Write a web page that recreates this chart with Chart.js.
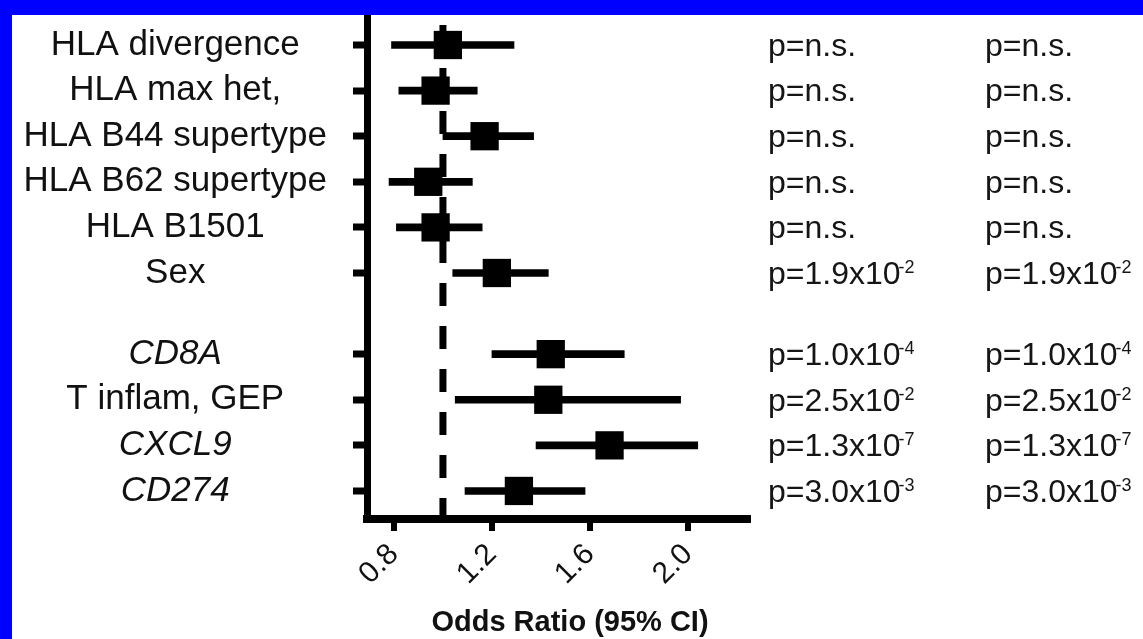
<!DOCTYPE html>
<html>
<head>
<meta charset="utf-8">
<script src="https://cdn.jsdelivr.net/npm/chart.js@4.4.1/dist/chart.umd.min.js"></script>
<style>
  html, body { margin: 0; padding: 0; background: #0000ff; }
  #wrap { position: absolute; left: 12px; top: 15px; width: 1131px; height: 624px; background: #fff; }
</style>
</head>
<body>
<div id="wrap"><canvas id="forest" width="1131" height="624"></canvas></div>
<script>
// Dados
const rowLabels = ['HLA divergence', 'HLA max het,', 'HLA B44 supertype', 'HLA B62 supertype', 'HLA B1501', 'Sex',
                   'CD8A', 'T inflam, GEP', 'CXCL9', 'CD274'];
const rowGroup = [0, 0, 0, 0, 0, 0, 1, 1, 1, 1];
const oddsRatio = [1.02, 0.97, 1.17, 0.94, 0.97, 1.22, 1.44, 1.43, 1.68, 1.31];
const ciLow = [0.79, 0.82, 1.00, 0.78, 0.81, 1.04, 1.20, 1.05, 1.38, 1.09];
const ciHigh = [1.29, 1.14, 1.37, 1.12, 1.16, 1.43, 1.74, 1.97, 2.04, 1.58];
const pValueA = ['n.s.', 'n.s.', 'n.s.', 'n.s.', 'n.s.', '1.9e-2', '1.0e-4', '2.5e-2', '1.3e-7', '3.0e-3'];
const pValueB = ['n.s.', 'n.s.', 'n.s.', 'n.s.', 'n.s.', '1.9e-2', '1.0e-4', '2.5e-2', '1.3e-7', '3.0e-3'];
const xTicks = [0.8, 1.2, 1.6, 2.0];

// Layout / estilo
const GROUP_GAP = 0.78;          // espaço extra entre os dois grupos
const italicLabels = new Set(['CD8A', 'CXCL9', 'CD274']);
const FONT = "'Liberation Sans', Arial, sans-serif";
const rowPos = rowLabels.map((_, i) => i + rowGroup[i] * GROUP_GAP);

// Linha tracejada em OR = 1 e textos dos p-valores
const forestExtras = {
    id: 'forestExtras',
    beforeDatasetsDraw(chart) {
        const {ctx, chartArea, scales} = chart;
        const x = scales.x.getPixelForValue(1.0);
        ctx.save();
        ctx.strokeStyle = '#000';
        ctx.lineWidth = 7;
        ctx.setLineDash([23, 20]);
        ctx.beginPath();
        ctx.moveTo(x, chartArea.top + 10);
        ctx.lineTo(x, chartArea.bottom);
        ctx.stroke();
        ctx.restore();
    },
    afterDraw(chart) {
        const {ctx, scales} = chart;
        const cols = [[pValueA, 756], [pValueB, 973]];
        ctx.save();
        ctx.fillStyle = '#151515';
        ctx.textAlign = 'left';
        ctx.textBaseline = 'middle';
        cols.forEach(([values, x0]) => {
            values.forEach((p, i) => {
                const y = scales.y.getPixelForValue(rowPos[i]) + 2;
                ctx.font = '32px ' + FONT;
                if (p === 'n.s.') {
                    ctx.fillText('p=n.s.', x0, y);
                    return;
                }
                const [mant, exp] = p.split('e');
                const base = 'p=' + mant + 'x10';
                ctx.fillText(base, x0, y);
                const w = ctx.measureText(base).width;
                ctx.font = '18px ' + FONT;
                ctx.fillText(exp, x0 + w - 2, y - 7);
            });
        });
        ctx.restore();
    }
};

const ctx = document.getElementById('forest').getContext('2d');
new Chart(ctx, {
    type: 'scatter',
    data: {
        datasets: [
            {
                type: 'bar',
                indexAxis: 'y',
                data: rowPos.map((y, i) => ({x: [ciLow[i], ciHigh[i]], y: y})),
                backgroundColor: '#000',
                borderWidth: 0,
                barThickness: 7,
                borderSkipped: false,
                order: 2
            },
            {
                type: 'scatter',
                data: rowPos.map((y, i) => ({x: oddsRatio[i], y: y})),
                pointStyle: 'rect',
                pointRadius: 20,
                backgroundColor: '#000',
                borderWidth: 0,
                order: 1
            }
        ]
    },
    options: {
        responsive: false,
        animation: false,
        events: [],
        layout: { autoPadding: false, padding: { left: 0, top: 0, right: 15, bottom: 0 } },
        plugins: {
            legend: { display: false },
            tooltip: { enabled: false },
            title: {
                display: true,
                position: 'bottom',
                text: 'Odds Ratio (95% CI)',
                color: '#111',
                font: { family: FONT, size: 29, weight: 'bold', lineHeight: 1.1 },
                padding: { top: 0, bottom: 0 }
            }
        },
        scales: {
            x: {
                type: 'linear',
                min: 0.69,
                max: 2.241,
                offset: false,
                afterBuildTicks: scale => { scale.ticks = xTicks.map(v => ({value: v})); },
                afterFit: scale => {
                    scale.height = 88.1;
                    scale.paddingLeft = 0;
                    scale.paddingRight = 396;   // espaço para as colunas de p
                },
                border: { display: true, color: '#000', width: 8 },
                grid: { offset: false, drawOnChartArea: false, drawTicks: true, color: '#000', lineWidth: 8, tickLength: 12, tickWidth: 6, tickColor: '#000' },
                ticks: {
                    autoSkip: false,
                    minRotation: 45,
                    maxRotation: 45,
                    padding: 6,
                    color: '#111',
                    font: { family: FONT, size: 30 },
                    callback: v => v.toFixed(1)
                }
            },
            y: {
                type: 'linear',
                reverse: true,
                offset: false,
                min: -0.658,
                max: 10.395,
                afterBuildTicks: scale => { scale.ticks = rowPos.map(v => ({value: v})); },
                afterFit: scale => {
                    scale.width = 355;
                    scale.paddingTop = 0; scale.paddingBottom = 0;
                },
                border: { display: true, color: '#000', width: 7 },
                grid: { offset: false, drawOnChartArea: false, drawTicks: true, color: '#000', lineWidth: 8, tickLength: 14, tickWidth: 7, tickColor: '#000' },
                ticks: {
                    autoSkip: false,
                    crossAlign: 'center',
                    padding: 26,
                    color: '#111',
                    font: c => ({ family: FONT, size: 35, style: italicLabels.has(rowLabels[c.index]) ? 'italic' : 'normal' }),
                    callback: (v, i) => rowLabels[i]
                }
            }
        }
    },
    plugins: [forestExtras]
});
</script>
</body>
</html>
